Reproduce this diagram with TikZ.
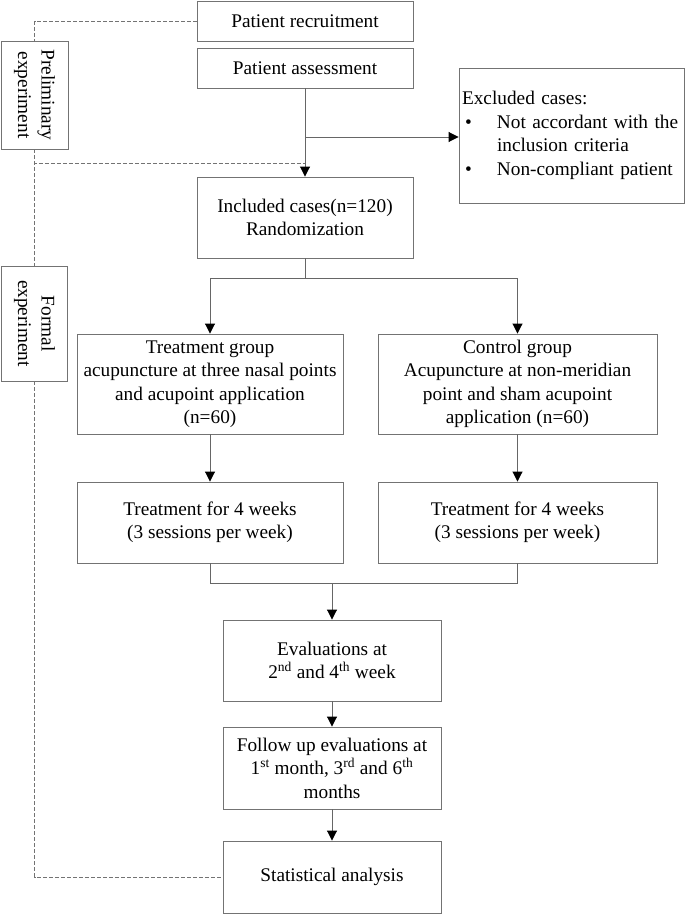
\documentclass[tikz,border=0pt]{standalone}
\usepackage{fontspec}
\usepackage{graphicx}
\setmainfont{Liberation Serif}
\usetikzlibrary{arrows.meta}

\tikzset{
  box/.style={draw=black!55, line width=0.9pt, align=center, inner sep=2pt,
    font=\fontsize{19.3}{23.5}\selectfont},
  flow/.style={draw=black!60, line width=0.9pt,
    -{Triangle[width=10pt,length=10pt,color=black]}},
  link/.style={draw=black!60, line width=0.9pt},
  side/.style={draw=black!55, line width=0.9pt, dash pattern=on 4pt off 2pt},
}

\begin{document}
\begin{tikzpicture}[x=1pt,y=-1pt]
  \useasboundingbox (0,0) rectangle (685,923);
  %
  \node[box, minimum width=216pt, minimum height=40pt] (recruit) at (305,21) {Patient recruitment};
  \node[box, minimum width=216pt, minimum height=40pt] (assess) at (305,68) {Patient assessment};
  \node[box, minimum height=135pt, inner sep=3pt, text width=219pt, align=left] (excl) at (571.5,135.5)
    {Excluded cases:\\
     \makebox[35pt][l]{\hspace{3pt}\textbullet}Not accordant with the\\
     \makebox[35pt][l]{}inclusion criteria\\
     \makebox[35pt][l]{\hspace{3pt}\textbullet}Non-compliant patient};
  \node[box, minimum width=216pt, minimum height=81pt] (incl) at (305,217.5) {Included cases(n=120)\\Randomization};
  %
  \node[box, minimum width=67pt, minimum height=108pt] (prelim) at (34.5,95)
    {\rotatebox{-90}{\begin{tabular}{@{}c@{}}Preliminary\\experiment\end{tabular}}};
  \node[box, minimum width=66pt, minimum height=115pt] (formal) at (34.5,323.5)
    {\rotatebox{-90}{\begin{tabular}{@{}c@{}}Formal\\experiment\end{tabular}}};
  %
  \node[box, minimum width=266pt, minimum height=100pt] (treat) at (210,384)
    {Treatment group\\acupuncture at three nasal points\\and acupoint application\\(n=60)};
  \node[box, minimum width=279pt, minimum height=100pt] (ctrl) at (517.5,384)
    {Control group\\Acupuncture at non-meridian\\point and sham acupoint\\application (n=60)};
  \node[box, minimum width=266pt, minimum height=81pt] (weekL) at (210,522.5)
    {Treatment for 4 weeks\\(3 sessions per week)};
  \node[box, minimum width=279pt, minimum height=81pt] (weekR) at (517.5,522.5)
    {Treatment for 4 weeks\\(3 sessions per week)};
  %
  \node[box, minimum width=218pt, minimum height=81pt] (eval) at (332,660.5)
    {Evaluations at\\2\textsuperscript{nd} and 4\textsuperscript{th} week};
  \node[box, minimum width=218pt, minimum height=82pt] (follow) at (332,768)
    {Follow up evaluations at\\1\textsuperscript{st} month, 3\textsuperscript{rd} and 6\textsuperscript{th}\\months};
  \node[box, minimum width=218pt, minimum height=72pt] (stat) at (332,877) {Statistical analysis};
  %
  \coordinate (br) at (305,137);
  \coordinate (dj) at (305,163);
  \coordinate (sp) at (305,278);
  \coordinate (jn) at (332,583);
  %
  \draw[flow] (assess.south) -- (incl.north);
  \draw[flow] (br) -- (br -| excl.west);
  \draw[side] (recruit.west) -| (prelim.north);
  \draw[side] (prelim.south) |- (dj);
  \draw[side] (prelim.south) -- (formal.north);
  \draw[side] (formal.south) |- (stat.west);
  %
  \draw[link] (incl.south) -- (sp);
  \draw[flow] (sp) -| (treat.north);
  \draw[flow] (sp) -| (ctrl.north);
  \draw[flow] (treat.south) -- (weekL.north);
  \draw[flow] (ctrl.south) -- (weekR.north);
  \draw[link] (weekL.south) |- (jn);
  \draw[link] (weekR.south) |- (jn);
  \draw[flow] (jn) -- (eval.north);
  \draw[flow] (eval.south) -- (follow.north);
  \draw[flow] (follow.south) -- (stat.north);
\end{tikzpicture}
\end{document}
